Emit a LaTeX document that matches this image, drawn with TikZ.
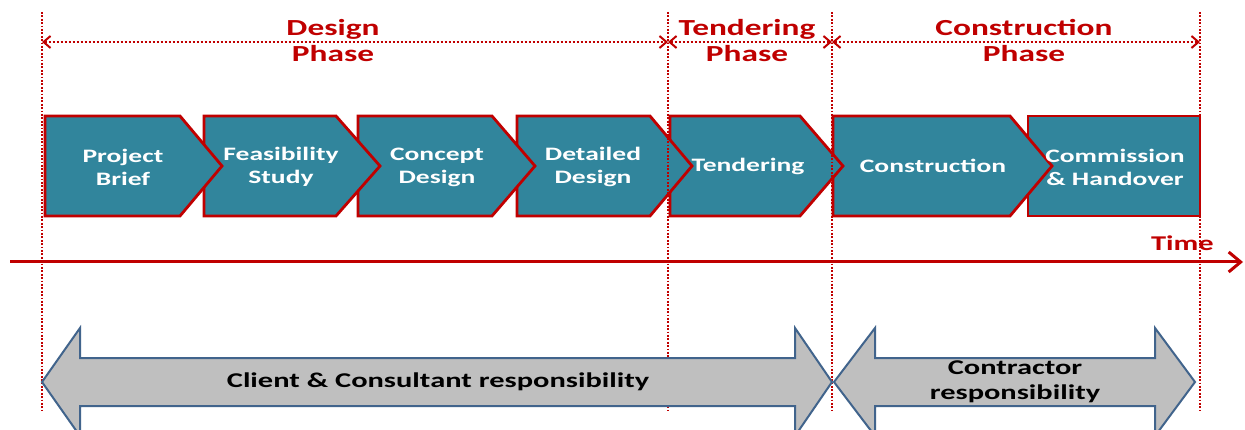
\documentclass[tikz,border=0pt]{standalone}
\usepackage{fontspec}
\setmainfont[FakeStretch=1.45]{Carlito}
\usetikzlibrary{arrows.meta}
\definecolor{dred}{RGB}{192,0,0}
\definecolor{boxteal}{RGB}{49,133,156}
\definecolor{respgrey}{RGB}{191,191,191}
\definecolor{respblue}{RGB}{65,100,140}
\begin{document}
\begin{tikzpicture}[x=1pt,y=-1pt,
  chev/.style={fill=boxteal, draw=dred, line width=2.8pt, line join=miter},
  boxtxt/.style={text=white, font=\bfseries\fontsize{19}{23}\selectfont, align=center, inner sep=0pt},
  phasetxt/.style={text=dred, font=\bfseries\fontsize{23}{26}\selectfont, align=center, inner sep=0pt},
  vdot/.style={dred, line width=2.6pt, dash pattern=on 1.8pt off 1.6pt},
  phasearr/.style={dred, line width=2.4pt, dash pattern=on 2pt off 2pt,
     {Straight Barb[length=7pt,width=12pt,line width=2pt]}-{Straight Barb[length=7pt,width=12pt,line width=2pt]}},
  resp/.style={fill=respgrey, draw=respblue, line width=2pt, line join=miter},
  resptxt/.style={font=\bfseries\fontsize{21}{25}\selectfont, align=center, inner sep=0pt},
  timetxt/.style={text=dred, font=\bfseries\fontsize{21}{25}\selectfont, inner sep=0pt}
]
\clip (0,0) rectangle (1245,430);
\fill[white] (0,0) rectangle (1245,430);

% chevrons (drawn right to left so each tip overlaps the next box)
\path[chev] (1028,116) -- (1200,116) -- (1200,216) -- (1028,216) -- cycle;
\foreach \l/\s/\t in {833/1010/1052, 670/800/843, 517/650/692, 358/492/535, 204/336/380, 45/180/222}{
  \path[chev] (\l,116) -- (\s,116) -- (\t,166) -- (\s,216) -- (\l,216) -- cycle;
}

% vertical dotted phase boundaries
\coordinate (v1t) at (42,12);   \coordinate (v1b) at (42,410);
\coordinate (v2t) at (668,12);  \coordinate (v2b) at (668,410);
\coordinate (v3t) at (832,12);  \coordinate (v3b) at (832,410);
\coordinate (v4t) at (1200,12); \coordinate (v4b) at (1200,410);
\foreach \a/\b in {v1t/v1b, v2t/v2b, v3t/v3b, v4t/v4b}{ \draw[vdot] (\a) -- (\b); }

% phase arrows
\coordinate (p1) at (42,42); \coordinate (p2) at (668,42);
\coordinate (p3) at (832,42); \coordinate (p4) at (1200,42);
\draw[phasearr] (p1) -- (p2);
\draw[phasearr] (p2) -- (p3);
\draw[phasearr] (p3) -- (p4);

\node[phasetxt] (design) at (333,41) {Design\\Phase};
\node[phasetxt] (tender) at (747,41) {Tendering\\Phase};
\node[phasetxt] (constr) at (1024,41) {Construction\\Phase};

% box texts
\node[boxtxt] (b1) at (123,167) {Project\\Brief};
\node[boxtxt] (b2) at (281,167) {Feasibility\\Study};
\node[boxtxt] (b3) at (437,167) {Concept\\Design};
\node[boxtxt] (b4) at (593,167) {Detailed\\Design};
\node[boxtxt] (b5) at (748,166) {Tendering};
\node[boxtxt] (b6) at (933,166) {Construction};
\node[boxtxt] (b7) at (1115,167) {Commission\\\& Handover};

% time axis
\coordinate (ts) at (10,262); \coordinate (te) at (1243,262);
\draw[dred, line width=3pt, -{Straight Barb[length=12pt,width=20pt,line width=3pt]}] (ts) -- (te);
\node[timetxt, anchor=east] (time) at (1214,243) {Time};

% responsibility arrows
\path[resp] (42,382) -- (80,328) -- (80,358) -- (795,358) -- (795,328) -- (832,382)
  -- (795,436) -- (795,406) -- (80,406) -- (80,436) -- cycle;
\path[resp] (834,382) -- (875,328) -- (875,358) -- (1155,358) -- (1155,328) -- (1195,382)
  -- (1155,436) -- (1155,406) -- (875,406) -- (875,436) -- cycle;
\node[resptxt] (client) at (438,382) {Client \& Consultant responsibility};
\node[resptxt] (contr) at (1015,382) {Contractor\\responsibility};
\end{tikzpicture}
\end{document}
